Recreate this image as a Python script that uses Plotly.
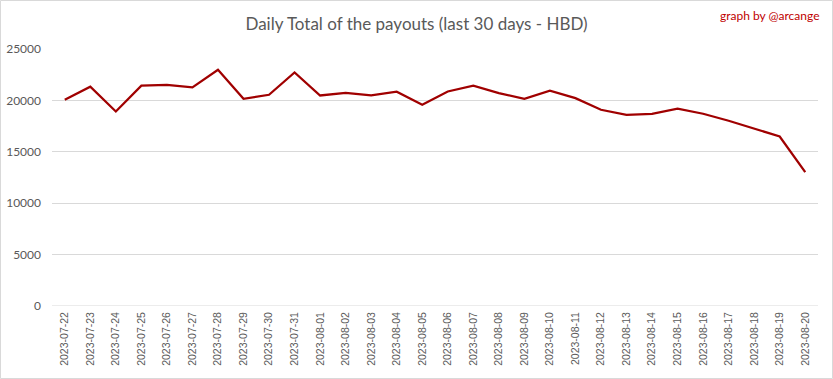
import plotly.graph_objects as go

dates = ["2023-07-22", "2023-07-23", "2023-07-24", "2023-07-25", "2023-07-26", "2023-07-27",
         "2023-07-28", "2023-07-29", "2023-07-30", "2023-07-31", "2023-08-01", "2023-08-02",
         "2023-08-03", "2023-08-04", "2023-08-05", "2023-08-06", "2023-08-07", "2023-08-08",
         "2023-08-09", "2023-08-10", "2023-08-11", "2023-08-12", "2023-08-13", "2023-08-14",
         "2023-08-15", "2023-08-16", "2023-08-17", "2023-08-18", "2023-08-19", "2023-08-20"]
payouts = [20060, 21330, 18920, 21430, 21520, 21260, 22980, 20160, 20550, 22720,
           20480, 20740, 20480, 20840, 19580, 20870, 21430, 20710, 20160, 20940,
           20220, 19090, 18600, 18700, 19190, 18700, 18020, 17240, 16490, 13020]
y_ticks = [0, 5000, 10000, 15000, 20000, 25000]

W, H = 833, 379
ml, mr, mt, mb = 52, 15, 49, 73
pw, ph = W - ml - mr, H - mt - mb

fig = go.Figure()
fig.add_trace(go.Scatter(
    x=dates, y=payouts, mode="lines",
    line=dict(color="#A00000", width=2.25),
    hoverinfo="x+y",
))

fig.update_layout(
    width=W, height=H,
    margin=dict(l=ml, r=mr, t=mt, b=mb, autoexpand=False),
    paper_bgcolor="white", plot_bgcolor="white",
    showlegend=False,
    font=dict(family="Lato, Open Sans, sans-serif", color="#595959"),
    title=dict(
        text="Daily Total of the payouts (last 30 days - HBD)",
        x=0.5, xanchor="center", y=1 - 24 / H, yanchor="middle",
        font=dict(size=17, color="#595959", family="Lato, sans-serif"),
    ),
    xaxis=dict(
        type="category", tickangle=-90, showgrid=False, zeroline=False, automargin=False,
        showline=False, ticks="", ticklabelstandoff=3,
        tickfont=dict(size=10.5, color="#595959", family="Liberation Sans, sans-serif"),
        range=[-0.5, len(dates) - 0.5],
    ),
    yaxis=dict(
        range=[0, 25000], tickvals=y_ticks, ticktext=[str(v) for v in y_ticks],
        showgrid=True, gridcolor="#D9D9D9", gridwidth=1, zeroline=False, automargin=False,
        showline=False, ticks="", ticklabelstandoff=10,
        tickfont=dict(size=12, color="#595959", family="Lato, sans-serif"),
    ),
    annotations=[dict(
        text="graph by @arcange", xref="paper", yref="paper",
        x=(822 - ml) / pw, y=1 + (mt - 15) / ph, xanchor="right", yanchor="middle",
        showarrow=False, font=dict(size=12, color="#C00000", family="Lato, sans-serif"),
    )],
    shapes=[
        dict(type="line", xref="paper", yref="y", x0=0, x1=1, y0=0, y1=0,
             line=dict(color="#D9D9D9", width=1)),
        dict(type="rect", xref="paper", yref="paper",
             x0=(0.5 - ml) / pw, x1=(W - 0.5 - ml) / pw,
             y0=-(mb - 0.5) / ph, y1=1 + (mt - 0.5) / ph,
             line=dict(color="#D9D9D9", width=1), layer="below"),
    ],
)

fig.write_html(
    "out.html",
    config={"displayModeBar": False},
    post_script="document.body.style.margin='0';document.body.style.padding='0';"
                "document.body.style.overflow='hidden';",
)
